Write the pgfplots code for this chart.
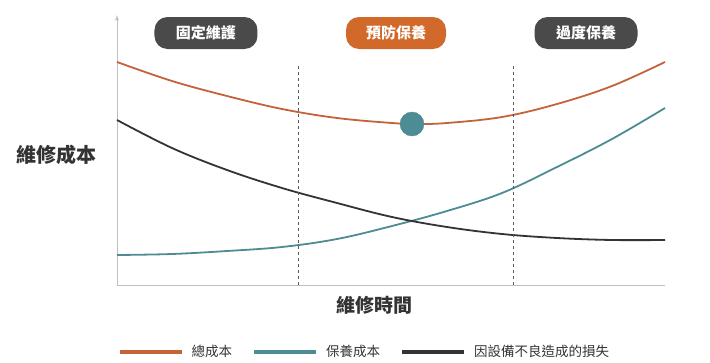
\documentclass[border=0pt]{standalone}
\usepackage{pgfplots}
\pgfplotsset{compat=1.18}
\usepackage{fontspec}
\setmainfont{Noto Sans CJK TC}
\definecolor{totc}{HTML}{C4623A}
\definecolor{tealc}{HTML}{4C8C92}
\definecolor{blk}{HTML}{333333}
\definecolor{badgeo}{HTML}{D0692A}
\definecolor{badgeg}{HTML}{4A4A4A}
\begin{document}
\begin{tikzpicture}[x=1pt,y=1pt]
\path[use as bounding box] (-117,-77) rectangle (593,285);
\begin{axis}[
  at={(0,0)}, anchor=south west,
  scale only axis, width=548pt, height=270pt,
  xmin=0, xmax=548, ymin=0, ymax=270,
  axis lines=left,
  axis line style={draw=gray!50, line width=0.8pt},
  x axis line style={-},
  y axis line style={-latex},
  xtick=\empty, ytick=\empty,
  clip=false,
  legend style={at={(0.457,-0.248)}, anchor=center, draw=none, fill=none,
    legend columns=3, font=\fontsize{13.5}{14}\selectfont\color{blk},
    nodes={inner xsep=8pt},
    /tikz/every even column/.append style={column sep=12pt}},
  legend image code/.code={\draw[#1, line width=4pt] (0pt,0pt) -- (62pt,0pt);},
]
\addplot[totc, line width=1.8pt, smooth, tension=0.6] coordinates {(0,223) (55,204) (110,189) (165,176) (220,167) (275,162) (300,161) (330,162) (385,168) (440,181) (495,199) (548,223)};
\addlegendentry{總成本}
\addplot[tealc, line width=1.8pt, smooth, tension=0.6] coordinates {(0,30) (55,31) (110,34) (165,38) (220,46) (275,59) (330,74) (385,92) (440,118) (495,146) (548,177)};
\addlegendentry{保養成本}
\addplot[blk, line width=1.8pt, smooth, tension=0.6] coordinates {(0,165) (55,137) (110,115) (165,97) (220,82) (275,68) (330,58) (385,51) (440,47) (495,45) (548,45)};
\addlegendentry{因設備不良造成的損失}
\addplot[gray!70!black, dashed, line width=1pt, forget plot] coordinates {(181,0) (181,220)};
\addplot[gray!70!black, dashed, line width=1pt, forget plot] coordinates {(396,0) (396,220)};
\addplot[tealc, only marks, mark=*, mark size=12pt, forget plot] coordinates {(295,161)};
\node[fill=badgeg, text=white, rounded corners=13pt, minimum width=103pt, minimum height=32pt, font=\bfseries\fontsize{15}{16}\selectfont] at (axis cs:89,252) {固定維護};
\node[fill=badgeo, text=white, rounded corners=13pt, minimum width=100pt, minimum height=32pt, font=\bfseries\fontsize{15}{16}\selectfont] at (axis cs:279,252) {預防保養};
\node[fill=badgeg, text=white, rounded corners=13pt, minimum width=103pt, minimum height=32pt, font=\bfseries\fontsize{15}{16}\selectfont] at (axis cs:469,252) {過度保養};
\node[font=\bfseries\fontsize{20}{21}\selectfont, text=blk] at (axis cs:-60,130) {維修成本};
\node[font=\bfseries\fontsize{19}{20}\selectfont, text=blk] at (axis cs:257,-20) {維修時間};
\end{axis}
\end{tikzpicture}
\end{document}
